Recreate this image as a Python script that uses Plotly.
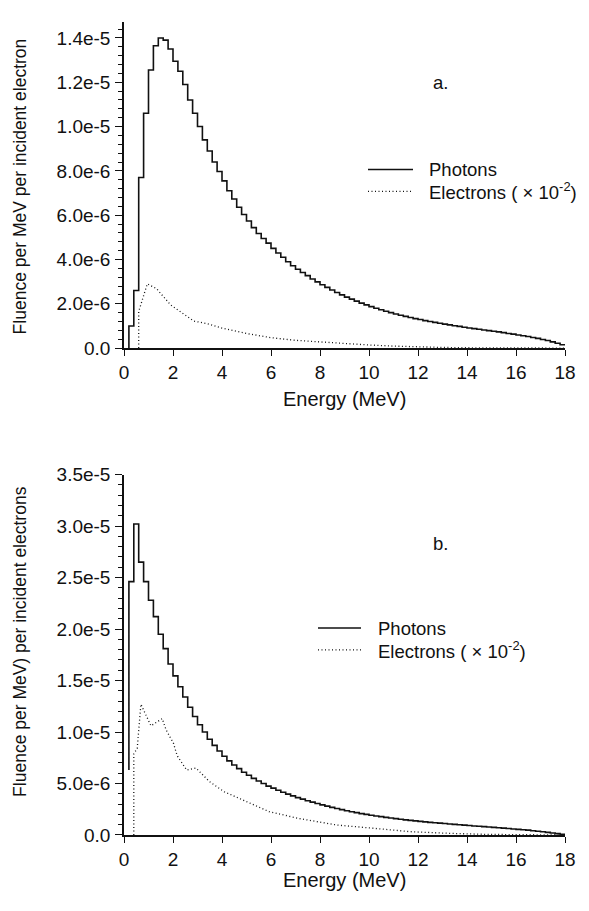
import plotly.graph_objects as go

# upper bin edges (MeV), 0.2 MeV bins
bin_edges = [round(0.2 * k, 1) for k in range(1, 91)]

# panel a: photon fluence per bin (x1e-6)
photons_a = [
    0.0, 1.0, 2.6, 7.7, 10.6, 12.55, 13.65, 14.0, 13.9, 13.5,
    12.95, 12.5, 11.9, 11.2, 10.6, 10.0, 9.4, 8.9, 8.4, 7.97,
    7.55, 7.1, 6.73, 6.36, 6.03, 5.74, 5.44, 5.17, 4.95, 4.74,
    4.5, 4.29, 4.1, 3.9, 3.72, 3.56, 3.41, 3.27, 3.12, 2.99,
    2.86, 2.74, 2.62, 2.51, 2.40, 2.30, 2.21, 2.12, 2.03, 1.95,
    1.87, 1.80, 1.73, 1.66, 1.60, 1.54, 1.48, 1.43, 1.38, 1.33,
    1.29, 1.24, 1.20, 1.16, 1.12, 1.08, 1.05, 1.01, 0.98, 0.94,
    0.91, 0.88, 0.85, 0.82, 0.79, 0.76, 0.73, 0.70, 0.66, 0.63,
    0.59, 0.56, 0.52, 0.48, 0.44, 0.39, 0.34, 0.28, 0.22, 0.15,
]
# panel a: electrons (x1e-2), x1e-6
elec_a_energy = [0.6, 0.6, 0.95, 1.1, 1.33, 1.9, 2.4, 2.85, 3.4, 4.0, 5.0,
                 6.0, 7.0, 8.0, 9.0, 10.0, 11.0, 12.0, 13.0, 14.0, 16.0, 18.0]
elec_a = [0.0, 1.65, 2.9, 2.8, 2.68, 1.95, 1.55, 1.22, 1.1, 0.9, 0.66,
          0.47, 0.35, 0.27, 0.2, 0.14, 0.09, 0.05, 0.03, 0.015, 0.005, 0.0]

# panel b: photon fluence per bin (x1e-6)
photons_b = [
    6.3, 24.6, 30.2, 26.5, 24.6, 22.8, 21.2, 19.5, 18.1, 16.6,
    15.45, 14.4, 13.4, 12.4, 11.5, 10.7, 10.0, 9.3, 8.7, 8.15,
    7.65, 7.2, 6.8, 6.45, 6.1, 5.8, 5.5, 5.25, 5.0, 4.75,
    4.55, 4.35, 4.15, 3.97, 3.8, 3.63, 3.48, 3.33, 3.19, 3.06,
    2.93, 2.80, 2.68, 2.57, 2.46, 2.36, 2.26, 2.17, 2.08, 2.0,
    1.92, 1.85, 1.78, 1.71, 1.65, 1.59, 1.53, 1.47, 1.42, 1.37,
    1.32, 1.27, 1.23, 1.19, 1.15, 1.11, 1.07, 1.03, 0.99, 0.96,
    0.92, 0.88, 0.85, 0.81, 0.78, 0.74, 0.71, 0.67, 0.63, 0.59,
    0.55, 0.51, 0.47, 0.42, 0.37, 0.32, 0.26, 0.20, 0.13, 0.06,
]
elec_b_energy = [0.4, 0.4, 0.54, 0.69, 1.1, 1.56, 1.72, 2.02, 2.17, 2.56, 2.94,
                 3.48, 4.09, 4.85, 5.93, 7.15, 8.68, 10.2, 11.7, 13.3, 14.8, 18.0]
elec_b = [0.0, 7.9, 8.4, 12.7, 10.6, 11.3, 10.2, 8.9, 7.7, 6.3, 6.5,
          5.2, 4.2, 3.4, 2.26, 1.6, 0.97, 0.65, 0.32, 0.16, 0.06, 0.0]

xticks = [0, 2, 4, 6, 8, 10, 12, 14, 16, 18]
yticks_a = [0, 2e-6, 4e-6, 6e-6, 8e-6, 1e-5, 1.2e-5, 1.4e-5]
ytext_a = ["0.0", "2.0e-6", "4.0e-6", "6.0e-6", "8.0e-6", "1.0e-5", "1.2e-5", "1.4e-5"]
yticks_b = [0, 5e-6, 1e-5, 1.5e-5, 2e-5, 2.5e-5, 3e-5, 3.5e-5]
ytext_b = ["0.0", "5.0e-6", "1.0e-5", "1.5e-5", "2.0e-5", "2.5e-5", "3.0e-5", "3.5e-5"]

ink = "#111111"
font = "Liberation Sans, Arial, sans-serif"
tick_fs = 19
xtitle_fs = 20
ytitle_fs = 17.5
leg_fs = 18.5

fig = go.Figure()
fig.add_trace(go.Scatter(x=bin_edges, y=[v * 1e-6 for v in photons_a], mode="lines",
                         line=dict(shape="vh", color=ink, width=1.6),
                         xaxis="x", yaxis="y", showlegend=False))
fig.add_trace(go.Scatter(x=elec_a_energy, y=[v * 1e-6 for v in elec_a], mode="lines",
                         line=dict(color=ink, width=1.3, dash="1px,2.5px"),
                         xaxis="x", yaxis="y", showlegend=False))
fig.add_trace(go.Scatter(x=bin_edges, y=[v * 1e-6 for v in photons_b], mode="lines",
                         line=dict(shape="vh", color=ink, width=1.6),
                         xaxis="x2", yaxis="y2", showlegend=False))
fig.add_trace(go.Scatter(x=elec_b_energy, y=[v * 1e-6 for v in elec_b], mode="lines",
                         line=dict(color=ink, width=1.3, dash="1px,2.5px"),
                         xaxis="x2", yaxis="y2", showlegend=False))

xcommon = dict(range=[0, 18], tickvals=xticks, ticks="outside", ticklen=6, tickwidth=1.3,
               tickcolor=ink, showline=True, linecolor=ink, linewidth=1.5,
               showgrid=False, zeroline=False, tickfont=dict(size=tick_fs, color=ink))
ycommon = dict(ticks="outside", ticklen=7, tickwidth=1.3, tickcolor=ink, showline=True,
               linecolor=ink, linewidth=1.5, showgrid=False, zeroline=False,
               tickfont=dict(size=tick_fs, color=ink), ticklabelstandoff=1)

H = 821.0
def py(p):
    return (835 - p) / H
def px(p):
    return (p - 124) / 441.0

fig.update_layout(
    width=589, height=911, autosize=False,
    margin=dict(l=124, r=24, t=14, b=76),
    paper_bgcolor="white", plot_bgcolor="white",
    font=dict(family=font, size=tick_fs, color=ink),
    xaxis=dict(domain=[0, 1], anchor="y", **xcommon),
    yaxis=dict(domain=[py(343.3), 1], anchor="x", range=[0, 1.472e-5],
               tickvals=yticks_a, ticktext=ytext_a,
               minor=dict(dtick=4e-7, tick0=0, ticks="outside", ticklen=4, tickcolor=ink),
               **ycommon),
    xaxis2=dict(domain=[0, 1], anchor="y2", **xcommon),
    yaxis2=dict(domain=[0, py(471)], anchor="x2", range=[0, 3.5e-5],
                tickvals=yticks_b, ticktext=ytext_b,
                minor=dict(dtick=1e-6, tick0=0, ticks="outside", ticklen=4, tickcolor=ink),
                **ycommon),
)

ann = [
    dict(text="Energy (MeV)", x=px(344), y=py(395), fs=xtitle_fs),
    dict(text="Energy (MeV)", x=px(344), y=py(880), fs=xtitle_fs),
    dict(text="Fluence per MeV per incident electron", x=px(20), y=py(180),
         textangle=-90, fs=ytitle_fs),
    dict(text="Fluence per MeV) per incident electrons", x=px(20), y=py(640),
         textangle=-90, fs=ytitle_fs),
    dict(text="a.", x=px(440), y=py(75), fs=leg_fs),
    dict(text="b.", x=px(440), y=py(541), fs=leg_fs),
    dict(text="Photons", x=px(427), y=py(163), xanchor="left", fs=leg_fs),
    dict(text="Electrons ( \u00d7 10<sup>-2</sup>)", x=px(427), y=py(185), xanchor="left", fs=leg_fs),
    dict(text="Photons", x=px(376), y=py(626), xanchor="left", fs=leg_fs),
    dict(text="Electrons ( \u00d7 10<sup>-2</sup>)", x=px(376), y=py(648), xanchor="left", fs=leg_fs),
]
for a in ann:
    size = a.pop("fs")
    a.setdefault("xanchor", "center")
    fig.add_annotation(xref="paper", yref="paper", showarrow=False, yanchor="middle",
                       font=dict(size=size, color=ink), **a)

# legend line samples
for x0, x1, y, dash in [(368, 413, 163, "solid"), (368, 413, 185, "1px,2.5px"),
                        (318, 361, 626, "solid"), (318, 361, 648, "1px,2.5px")]:
    fig.add_shape(type="line", xref="paper", yref="paper", x0=px(x0), x1=px(x1),
                  y0=py(y), y1=py(y),
                  line=dict(color=ink, width=1.6 if dash == "solid" else 1.3, dash=dash))

# drop the browser's default 8px body margin so the figure sits at the window origin
fig.write_html("out.html", config={"displayModeBar": False},
               post_script="document.body.style.margin = '0';")
